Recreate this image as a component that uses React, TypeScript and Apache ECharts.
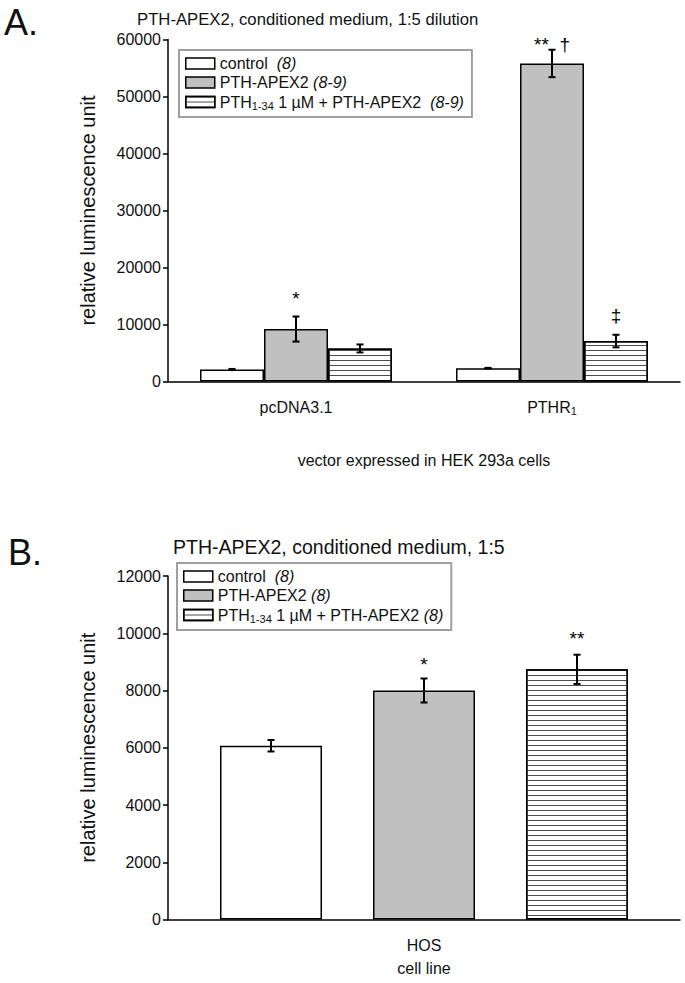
import React, { useEffect, useRef } from 'react';
import * as echarts from 'echarts';

// ---------- Panel A data ----------
const catsA = ['pcDNA3.1', 'PTHR1'];
const controlA = [2100, 2330];
const controlErrA = [100, 60];
const apexA = [9200, 55800];
const apexErrA = [2200, 2400];
const blockA = [5800, 7100];
const blockErrA = [700, 1100];
const yMinA = 0;
const yMaxA = 60000;
const yStepA = 10000;
const annotA = [
  { cat: 0, k: 1, y: 14600, text: '*' },
  { cat: 1, k: 1, y: 59200, text: '**  †' },
  { cat: 1, k: 2, y: 11500, text: '‡' },
];

// ---------- Panel B data ----------
const catsB = ['HOS'];
const controlB = [6070];
const controlErrB = [200];
const apexB = [8000];
const apexErrB = [420];
const blockB = [8740];
const blockErrB = [510];
const yMinB = 0;
const yMaxB = 12000;
const yStepB = 2000;
const annotB = [
  { cat: 0, k: 1, y: 8900, text: '*' },
  { cat: 0, k: 2, y: 9800, text: '**' },
];

const legendTextA: Record<string, string> = {
  'A control': 'control  {it|(8)}',
  'A PTH-APEX2': 'PTH-APEX2 {it|(8-9)}',
  'A PTH1-34 + PTH-APEX2': 'PTH{sub|1-34} 1 µM + PTH-APEX2  {it|(8-9)}',
};
const legendTextB: Record<string, string> = {
  'B control': 'control  {it|(8)}',
  'B PTH-APEX2': 'PTH-APEX2 {it|(8)}',
  'B PTH1-34 + PTH-APEX2': 'PTH{sub|1-34} 1 µM + PTH-APEX2 {it|(8)}',
};

const FONT = '"Liberation Sans", Arial, sans-serif';
const TXT = '#111';

const richDefs = {
  it: { fontStyle: 'italic', fontSize: 16, fontFamily: FONT, color: TXT, lineHeight: 17 },
  sub: { fontSize: 11, fontFamily: FONT, color: TXT, lineHeight: 10, padding: [7, 0, 0, 0] },
};

const whiteStyle = { color: '#ffffff', borderColor: '#000', borderWidth: 1.5 };
const grayStyle = { color: '#c0c0c0', borderColor: '#000', borderWidth: 1.5 };
const hatchStyle = {
  color: '#ffffff',
  borderColor: '#000',
  borderWidth: 1.5,
  decal: {
    symbol: 'rect',
    symbolSize: 1,
    color: '#4d4d4d',
    dashArrayX: [1, 0],
    dashArrayY: [1, 3.4],
    rotation: 0,
  },
};

function errData(vals: number[], errs: number[], k: number) {
  return vals.map((v, i) => [i, k, v - errs[i], v + errs[i]]);
}

function errorSeries(ax: number, data: number[][], step: number, cap: number) {
  return {
    type: 'custom',
    xAxisIndex: ax,
    yAxisIndex: ax,
    z: 5,
    silent: true,
    data,
    encode: { x: 0, y: [2, 3] },
    renderItem: (params: any, api: any) => {
      const cat = api.value(0);
      const k = api.value(1);
      const top = api.coord([cat, api.value(3)]);
      const bot = api.coord([cat, api.value(2)]);
      const x = top[0] + (k - 1) * step;
      const st = { stroke: '#000', lineWidth: 2 };
      return {
        type: 'group',
        children: [
          { type: 'line', shape: { x1: x, y1: top[1], x2: x, y2: bot[1] }, style: st },
          { type: 'line', shape: { x1: x - cap / 2, y1: top[1], x2: x + cap / 2, y2: top[1] }, style: st },
          { type: 'line', shape: { x1: x - cap / 2, y1: bot[1], x2: x + cap / 2, y2: bot[1] }, style: st },
        ],
      };
    },
  };
}

function annotSeries(ax: number, annots: { cat: number; k: number; y: number; text: string }[], step: number) {
  return {
    type: 'custom',
    xAxisIndex: ax,
    yAxisIndex: ax,
    z: 6,
    silent: true,
    data: annots.map((a) => [a.cat, a.k, a.y]),
    encode: { x: 0, y: 2 },
    renderItem: (params: any, api: any) => {
      const p = api.coord([api.value(0), api.value(2)]);
      return {
        type: 'text',
        x: p[0] + (api.value(1) - 1) * step,
        y: p[1],
        style: {
          text: annots[params.dataIndex].text,
          fontSize: 19,
          fontFamily: FONT,
          fill: '#000',
          align: 'center',
          verticalAlign: 'middle',
        },
      };
    },
  };
}

function yAxisDef(gi: number, min: number, max: number, step: number) {
  return {
    type: 'value',
    gridIndex: gi,
    min,
    max,
    interval: step,
    name: 'relative luminescence unit',
    nameLocation: 'middle',
    nameRotate: 90,
    nameGap: 70,
    nameTextStyle: { fontSize: 20, fontFamily: FONT, color: TXT },
    axisLine: { show: true, lineStyle: { color: '#000', width: 1.5 } },
    axisTick: { show: true, length: 5, lineStyle: { color: '#000', width: 1.5 } },
    axisLabel: { fontSize: 16, fontFamily: FONT, color: TXT, margin: 7, formatter: (v: number) => String(v) },
    splitLine: { show: false },
  };
}

function xAxisDef(gi: number, cats: string[], name: string, nameGap: number) {
  return {
    type: 'category',
    gridIndex: gi,
    data: cats,
    name,
    nameLocation: 'middle',
    nameGap,
    nameTextStyle: { fontSize: 16, fontFamily: FONT, color: TXT },
    axisLine: { show: true, lineStyle: { color: '#000', width: 1.5 } },
    axisTick: { show: false },
    axisLabel: {
      fontSize: 16,
      fontFamily: FONT,
      color: TXT,
      margin: 17,
      lineHeight: 17,
      formatter: (v: string) => (v === 'PTHR1' ? 'PTHR{sub|1}' : v),
      rich: { sub: richDefs.sub },
    },
  };
}

function legendDef(names: string[], map: Record<string, string>, left: number, top: number) {
  return {
    orient: 'vertical',
    left,
    top,
    data: names,
    icon: 'rect',
    itemWidth: 29,
    itemHeight: 11,
    itemGap: 2,
    padding: [5, 8, 6, 6],
    borderColor: '#a0a0a0',
    borderWidth: 2,
    selectedMode: false,
    itemStyle: { borderColor: '#000', borderWidth: 1.5 },
    formatter: (n: string) => map[n],
    textStyle: { fontSize: 16, fontFamily: FONT, color: TXT, lineHeight: 17, rich: richDefs },
  };
}

export default function App() {
  const ref = useRef<HTMLDivElement>(null);
  useEffect(() => {
    if (!ref.current) return;
    const chart = echarts.init(ref.current, undefined, { renderer: 'svg' });
    const namesA = Object.keys(legendTextA);
    const namesB = Object.keys(legendTextB);
    const stepA = 64;
    const stepB = 153;
    chart.setOption({
      animation: false,
      backgroundColor: '#fff',
      textStyle: { fontFamily: FONT },
      title: [
        { text: 'A.', left: 4, top: 4, padding: 0, textStyle: { fontSize: 36, fontWeight: 'normal', fontFamily: FONT, color: TXT } },
        { text: 'PTH-APEX2, conditioned medium, 1:5 dilution', left: 137, top: 11, padding: 0, textStyle: { fontSize: 16.7, fontWeight: 'normal', fontFamily: FONT, color: TXT } },
        { text: 'B.', left: 8, top: 534, padding: 0, textStyle: { fontSize: 36, fontWeight: 'normal', fontFamily: FONT, color: TXT } },
        { text: 'PTH-APEX2, conditioned medium, 1:5', left: 173, top: 537, padding: 0, textStyle: { fontSize: 19.5, fontWeight: 'normal', fontFamily: FONT, color: TXT } },
      ],
      legend: [legendDef(namesA, legendTextA, 179, 50), legendDef(namesB, legendTextB, 177, 563)],
      grid: [
        { left: 168, top: 39.5, width: 512, height: 342 },
        { left: 168, top: 576, width: 512, height: 343.5 },
      ],
      xAxis: [
        xAxisDef(0, catsA, 'vector expressed in HEK 293a cells', 71),
        xAxisDef(1, catsB, 'cell line', 41),
      ],
      yAxis: [yAxisDef(0, yMinA, yMaxA, yStepA), yAxisDef(1, yMinB, yMaxB, yStepB)],
      series: [
        { type: 'bar', name: namesA[0], xAxisIndex: 0, yAxisIndex: 0, data: controlA, barWidth: stepA, barGap: '0%', itemStyle: whiteStyle },
        { type: 'bar', name: namesA[1], xAxisIndex: 0, yAxisIndex: 0, data: apexA, barWidth: stepA, barGap: '0%', itemStyle: grayStyle },
        { type: 'bar', name: namesA[2], xAxisIndex: 0, yAxisIndex: 0, data: blockA, barWidth: stepA, barGap: '0%', itemStyle: hatchStyle },
        { type: 'bar', name: namesB[0], xAxisIndex: 1, yAxisIndex: 1, data: controlB, barWidth: 102, barGap: '50%', itemStyle: whiteStyle },
        { type: 'bar', name: namesB[1], xAxisIndex: 1, yAxisIndex: 1, data: apexB, barWidth: 102, barGap: '50%', itemStyle: grayStyle },
        { type: 'bar', name: namesB[2], xAxisIndex: 1, yAxisIndex: 1, data: blockB, barWidth: 102, barGap: '50%', itemStyle: hatchStyle },
        errorSeries(0, [...errData(controlA, controlErrA, 0), ...errData(apexA, apexErrA, 1), ...errData(blockA, blockErrA, 2)], stepA, 7),
        errorSeries(1, [...errData(controlB, controlErrB, 0), ...errData(apexB, apexErrB, 1), ...errData(blockB, blockErrB, 2)], stepB, 7),
        annotSeries(0, annotA, stepA),
        annotSeries(1, annotB, stepB),
      ],
    });
    return () => chart.dispose();
  }, []);
  return <div ref={ref} style={{ position: 'absolute', left: 0, top: 0, width: 685, height: 983 }} />;
}
